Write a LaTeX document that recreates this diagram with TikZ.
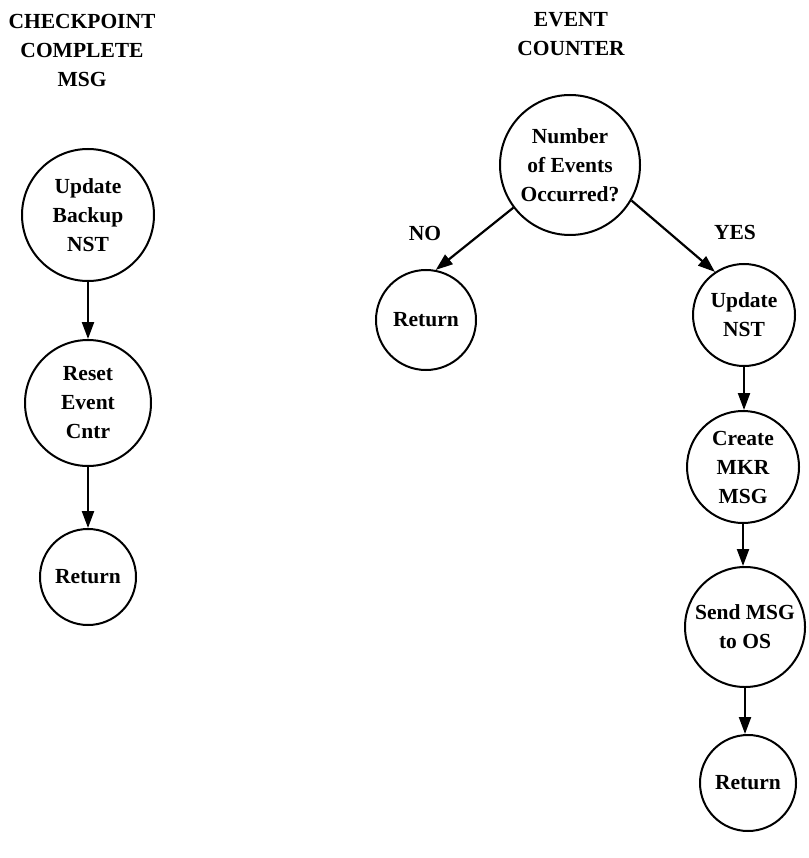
\documentclass[tikz,border=0pt]{standalone}
\usepackage{fontspec}
\setmainfont{Liberation Serif}
\usetikzlibrary{arrows.meta}
\begin{document}
\begin{tikzpicture}[x=1pt,y=-1pt,
  lbl/.style={font=\bfseries\fontsize{21.5}{29}\selectfont, align=center, inner sep=0pt},
  proc/.style={lbl, draw, circle, line width=2pt, minimum size=#1},
  flow/.style={line width=2.2pt, -{Triangle[length=17pt,width=12pt]}}
]
\useasboundingbox (0,0) rectangle (808,858);

% titles
\node[lbl] (t1) at (82,50) {CHECKPOINT\\COMPLETE\\MSG};
\node[lbl] (t2) at (571,34) {EVENT\\COUNTER};

% checkpoint complete message handler
\node[proc=132] (upb)  at (88,215) {Update\\Backup\\NST};
\node[proc=126] (rst)  at (88,403) {Reset\\Event\\Cntr};
\node[proc=96]  (ret1) at (88,577) {Return};

% event counter handler
\node[proc=140] (num)  at (570,165) {Number\\of Events\\Occurred?};
\node[proc=100] (ret2) at (426,320) {Return};
\node[proc=102] (unst) at (744,315) {Update\\NST};
\node[proc=112] (mkr)  at (743,467) {Create\\MKR\\MSG};
\node[proc=120] (send) at (745,627) {Send MSG\\to OS};
\node[proc=96]  (ret3) at (748,783) {Return};

% branch labels
\node[lbl] (no)  at (425,233) {NO};
\node[lbl] (yes) at (735,232) {YES};

% connectors
\draw[flow] (upb.south) -- (rst.north);
\draw[flow] (rst.south) -- (ret1.north);
\draw[flow] (num.217) -- (ret2.79);
\draw[flow] (num.330) -- (unst.124);
\draw[flow] (unst.south) -- (unst.south |- mkr.north);
\draw[flow] (mkr.south) -- (mkr.south |- send.north);
\draw[flow] (send.south) -- (send.south |- ret3.north);
\end{tikzpicture}
\end{document}
